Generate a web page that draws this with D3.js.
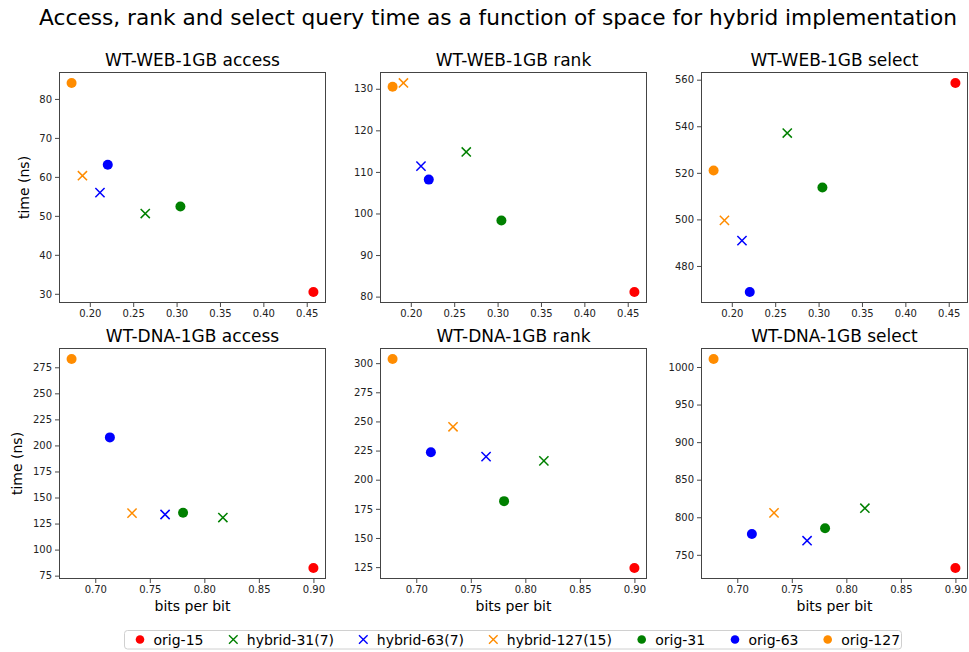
<!DOCTYPE html>
<html>
<head>
<meta charset="utf-8">
<script src="https://cdn.jsdelivr.net/npm/d3@7"></script>
<style>
  html, body { margin: 0; padding: 0; background: #fff; }
  svg { display: block; font-family: "DejaVu Sans", sans-serif; }
</style>
</head>
<body>
<svg id="chart" width="969" height="652"></svg>
<script>
// Series, in plotting / legend order
const seriesNames = ["orig-15", "hybrid-31(7)", "hybrid-63(7)", "hybrid-127(15)", "orig-31", "orig-63", "orig-127"];
const seriesColors = ["#ff0000", "#008000", "#0000ff", "#ff8c00", "#008000", "#0000ff", "#ff8c00"];
const seriesMarkers = ["dot", "x", "x", "x", "dot", "dot", "dot"];

// Space usage (bits per bit) per dataset
const webBits = [0.4577, 0.2639, 0.2117, 0.1915, 0.3044, 0.2207, 0.1790];
const dnaBits = [0.9000, 0.8170, 0.7640, 0.7337, 0.7805, 0.7134, 0.6783];

// Query times (ns)
const webAccess = [30.45, 50.6, 55.96, 60.3, 52.4, 63.1, 84.1];
const webRank   = [81.1, 114.8, 111.4, 131.4, 98.3, 108.15, 130.5];
const webSelect = [558.6, 537.1, 490.9, 499.6, 513.7, 468.8, 521.0];
const dnaAccess = [82.3, 130.8, 133.7, 135.0, 135.3, 207.7, 283.0];
const dnaRank   = [124.2, 216.1, 219.8, 245.4, 181.6, 223.6, 303.6];
const dnaSelect = [732.4, 812.0, 768.8, 805.8, 785.3, 777.7, 1010.7];

// Tick values
const webXTicks = [0.20, 0.25, 0.30, 0.35, 0.40, 0.45];
const dnaXTicks = [0.70, 0.75, 0.80, 0.85, 0.90];
const webAccessTicks = [30, 40, 50, 60, 70, 80];
const webRankTicks = [80, 90, 100, 110, 120, 130];
const webSelectTicks = [480, 500, 520, 540, 560];
const dnaAccessTicks = [75, 100, 125, 150, 175, 200, 225, 250, 275];
const dnaRankTicks = [125, 150, 175, 200, 225, 250, 275, 300];
const dnaSelectTicks = [750, 800, 850, 900, 950, 1000];

const titleText = "Access, rank and select query time as a function of space for hybrid implementation";
const xLabel = "bits per bit";
const yLabel = "time (ns)";

const panels = [
  { title: "WT-WEB-1GB access", x: webBits, y: webAccess, xt: webXTicks, yt: webAccessTicks, row: 0, col: 0 },
  { title: "WT-WEB-1GB rank",   x: webBits, y: webRank,   xt: webXTicks, yt: webRankTicks,   row: 0, col: 1 },
  { title: "WT-WEB-1GB select", x: webBits, y: webSelect, xt: webXTicks, yt: webSelectTicks, row: 0, col: 2 },
  { title: "WT-DNA-1GB access", x: dnaBits, y: dnaAccess, xt: dnaXTicks, yt: dnaAccessTicks, row: 1, col: 0 },
  { title: "WT-DNA-1GB rank",   x: dnaBits, y: dnaRank,   xt: dnaXTicks, yt: dnaRankTicks,   row: 1, col: 1 },
  { title: "WT-DNA-1GB select", x: dnaBits, y: dnaSelect, xt: dnaXTicks, yt: dnaSelectTicks, row: 1, col: 2 }
];

const svg = d3.select("#chart");
const colLeft = [59.5, 380.5, 701.5];
const rowTop = [72.5, 348.5];
const pw = 266, ph = 230;

// Figure title
svg.append("text")
  .attr("x", 498).attr("y", 24.5)
  .attr("text-anchor", "middle")
  .attr("font-size", 21.7)
  .attr("fill", "#000")
  .text(titleText);

function padded(vals) {
  const [lo, hi] = d3.extent(vals);
  const m = (hi - lo) * 0.05;
  return [lo - m, hi + m];
}

function drawMarker(g, type, color, cx, cy, r, xs, sw) {
  if (type === "dot") {
    g.append("circle").attr("cx", cx).attr("cy", cy).attr("r", r).attr("fill", color);
  } else {
    g.append("path")
      .attr("d", `M${cx - xs},${cy - xs}L${cx + xs},${cy + xs}M${cx - xs},${cy + xs}L${cx + xs},${cy - xs}`)
      .attr("stroke", color).attr("stroke-width", sw).attr("fill", "none");
  }
}

panels.forEach(p => {
  const left = colLeft[p.col], top = rowTop[p.row];
  const g = svg.append("g").attr("transform", `translate(${left},${top})`);
  const x = d3.scaleLinear().domain(padded(p.x)).range([0, pw]);
  const y = d3.scaleLinear().domain(padded(p.y)).range([ph, 0]);

  const xAxis = g.append("g").attr("transform", `translate(0,${ph})`)
    .call(d3.axisBottom(x).tickValues(p.xt).tickFormat(d3.format(".2f")).tickSize(4.5).tickPadding(3));
  const yAxis = g.append("g")
    .call(d3.axisLeft(y).tickValues(p.yt).tickFormat(d3.format("d")).tickSize(4.5).tickPadding(3));
  [xAxis, yAxis].forEach(a => {
    a.select(".domain").remove();
    a.selectAll("line").attr("stroke", "#333").attr("stroke-width", 0.9);
    a.selectAll("text").attr("font-size", 10).attr("fill", "#222").attr("font-family", "DejaVu Sans, sans-serif");
  });

  // Frame
  g.append("rect").attr("x", 0).attr("y", 0).attr("width", pw).attr("height", ph)
    .attr("fill", "none").attr("stroke", "#444").attr("stroke-width", 1);

  // Points
  p.x.forEach((xv, i) => {
    drawMarker(g, seriesMarkers[i], seriesColors[i], x(xv), y(p.y[i]), 5, 4.6, 1.5);
  });

  // Subplot title
  g.append("text").attr("x", pw / 2).attr("y", -7)
    .attr("text-anchor", "middle").attr("font-size", 17).attr("fill", "#000")
    .text(p.title);

  if (p.row === 1) {
    g.append("text").attr("x", pw / 2).attr("y", ph + 32)
      .attr("text-anchor", "middle").attr("font-size", 14).attr("fill", "#000")
      .text(xLabel);
  }
  if (p.col === 0) {
    const bb = yAxis.node().getBBox();
    const lx = bb.x - 10.5;
    g.append("text")
      .attr("transform", `translate(${lx},${ph / 2}) rotate(-90)`)
      .attr("text-anchor", "middle").attr("font-size", 14).attr("fill", "#000")
      .text(yLabel);
  }
});

// Legend
const legend = svg.append("g");
legend.append("rect").attr("x", 124.5).attr("y", 630.5).attr("width", 777).attr("height", 18.5)
  .attr("rx", 3).attr("fill", "#fff").attr("stroke", "#d0d0d0").attr("stroke-width", 1);
const legendMarkerX = [140, 233.3, 363.3, 493.3, 641.7, 735, 827.7];
seriesNames.forEach((name, i) => {
  const cx = legendMarkerX[i], cy = 639.5;
  drawMarker(legend, seriesMarkers[i], seriesColors[i], cx, cy, 4.3, 4.3, 1.4);
  legend.append("text").attr("x", cx + 13.5).attr("y", cy + 5)
    .attr("font-size", 14).attr("fill", "#000").text(name);
});
</script>
</body>
</html>
